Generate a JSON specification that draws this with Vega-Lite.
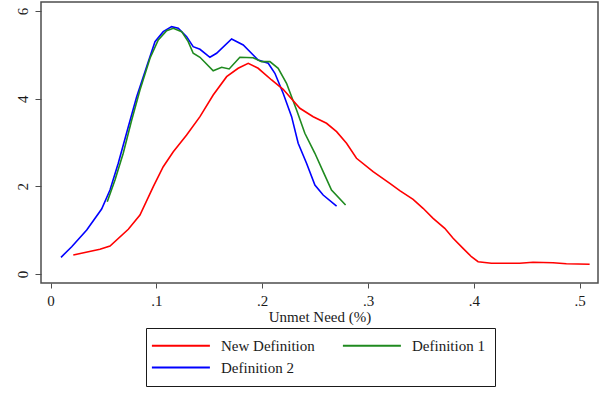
{
  "$schema": "https://vega.github.io/schema/vega-lite/v6.json",
  "autosize": "none",
  "width": 557,
  "height": 281,
  "padding": {"left": 41, "top": 2, "right": 15, "bottom": 113},
  "background": "white",
  "config": {
    "view": {"stroke": "#4d4d4d", "strokeWidth": 1.5},
    "axis": {"grid": false, "domain": false, "tickColor": "#4d4d4d", "labelFont": "Liberation Serif", "labelFontSize": 15, "labelColor": "#1a1a1a", "titleFont": "Liberation Serif", "titleFontSize": 15, "titleFontWeight": "normal", "titleColor": "#1a1a1a"}
  },
  "data": {"values": [
    {"def": "Definition 2", "x": 0.0099, "y": 0.381},
    {"def": "Definition 2", "x": 0.0200, "y": 0.623},
    {"def": "Definition 2", "x": 0.0342, "y": 1.004},
    {"def": "Definition 2", "x": 0.0483, "y": 1.483},
    {"def": "Definition 2", "x": 0.0562, "y": 1.917},
    {"def": "Definition 2", "x": 0.0640, "y": 2.526},
    {"def": "Definition 2", "x": 0.0735, "y": 3.361},
    {"def": "Definition 2", "x": 0.0814, "y": 4.045},
    {"def": "Definition 2", "x": 0.0908, "y": 4.730},
    {"def": "Definition 2", "x": 0.0987, "y": 5.300},
    {"def": "Definition 2", "x": 0.1065, "y": 5.528},
    {"def": "Definition 2", "x": 0.1144, "y": 5.642},
    {"def": "Definition 2", "x": 0.1207, "y": 5.606},
    {"def": "Definition 2", "x": 0.1286, "y": 5.414},
    {"def": "Definition 2", "x": 0.1348, "y": 5.186},
    {"def": "Definition 2", "x": 0.1412, "y": 5.127},
    {"def": "Definition 2", "x": 0.1506, "y": 4.944},
    {"def": "Definition 2", "x": 0.1569, "y": 5.035},
    {"def": "Definition 2", "x": 0.1711, "y": 5.362},
    {"def": "Definition 2", "x": 0.1821, "y": 5.225},
    {"def": "Definition 2", "x": 0.1915, "y": 4.997},
    {"def": "Definition 2", "x": 0.1962, "y": 4.882},
    {"def": "Definition 2", "x": 0.2057, "y": 4.807},
    {"def": "Definition 2", "x": 0.2120, "y": 4.579},
    {"def": "Definition 2", "x": 0.2198, "y": 4.123},
    {"def": "Definition 2", "x": 0.2278, "y": 3.589},
    {"def": "Definition 2", "x": 0.2340, "y": 2.982},
    {"def": "Definition 2", "x": 0.2419, "y": 2.526},
    {"def": "Definition 2", "x": 0.2498, "y": 2.031},
    {"def": "Definition 2", "x": 0.2576, "y": 1.802},
    {"def": "Definition 2", "x": 0.2703, "y": 1.551},
    {"def": "Definition 1", "x": 0.0536, "y": 1.650},
    {"def": "Definition 1", "x": 0.0609, "y": 2.145},
    {"def": "Definition 1", "x": 0.0687, "y": 2.754},
    {"def": "Definition 1", "x": 0.0767, "y": 3.514},
    {"def": "Definition 1", "x": 0.0845, "y": 4.198},
    {"def": "Definition 1", "x": 0.0940, "y": 4.921},
    {"def": "Definition 1", "x": 0.1018, "y": 5.339},
    {"def": "Definition 1", "x": 0.1097, "y": 5.551},
    {"def": "Definition 1", "x": 0.1160, "y": 5.606},
    {"def": "Definition 1", "x": 0.1239, "y": 5.528},
    {"def": "Definition 1", "x": 0.1301, "y": 5.300},
    {"def": "Definition 1", "x": 0.1348, "y": 5.035},
    {"def": "Definition 1", "x": 0.1412, "y": 4.944},
    {"def": "Definition 1", "x": 0.1537, "y": 4.638},
    {"def": "Definition 1", "x": 0.1617, "y": 4.716},
    {"def": "Definition 1", "x": 0.1688, "y": 4.677},
    {"def": "Definition 1", "x": 0.1789, "y": 4.944},
    {"def": "Definition 1", "x": 0.1915, "y": 4.935},
    {"def": "Definition 1", "x": 0.1994, "y": 4.844},
    {"def": "Definition 1", "x": 0.2073, "y": 4.844},
    {"def": "Definition 1", "x": 0.2151, "y": 4.693},
    {"def": "Definition 1", "x": 0.2230, "y": 4.351},
    {"def": "Definition 1", "x": 0.2325, "y": 3.742},
    {"def": "Definition 1", "x": 0.2403, "y": 3.210},
    {"def": "Definition 1", "x": 0.2498, "y": 2.754},
    {"def": "Definition 1", "x": 0.2576, "y": 2.334},
    {"def": "Definition 1", "x": 0.2655, "y": 1.917},
    {"def": "Definition 1", "x": 0.2788, "y": 1.574},
    {"def": "New Definition", "x": 0.0215, "y": 0.433},
    {"def": "New Definition", "x": 0.0467, "y": 0.564},
    {"def": "New Definition", "x": 0.0562, "y": 0.639},
    {"def": "New Definition", "x": 0.0735, "y": 1.020},
    {"def": "New Definition", "x": 0.0845, "y": 1.346},
    {"def": "New Definition", "x": 0.0971, "y": 1.992},
    {"def": "New Definition", "x": 0.1065, "y": 2.448},
    {"def": "New Definition", "x": 0.1160, "y": 2.790},
    {"def": "New Definition", "x": 0.1286, "y": 3.171},
    {"def": "New Definition", "x": 0.1412, "y": 3.589},
    {"def": "New Definition", "x": 0.1537, "y": 4.084},
    {"def": "New Definition", "x": 0.1664, "y": 4.502},
    {"def": "New Definition", "x": 0.1773, "y": 4.693},
    {"def": "New Definition", "x": 0.1868, "y": 4.807},
    {"def": "New Definition", "x": 0.1962, "y": 4.693},
    {"def": "New Definition", "x": 0.2089, "y": 4.426},
    {"def": "New Definition", "x": 0.2198, "y": 4.214},
    {"def": "New Definition", "x": 0.2356, "y": 3.781},
    {"def": "New Definition", "x": 0.2482, "y": 3.589},
    {"def": "New Definition", "x": 0.2608, "y": 3.438},
    {"def": "New Definition", "x": 0.2703, "y": 3.247},
    {"def": "New Definition", "x": 0.2797, "y": 2.982},
    {"def": "New Definition", "x": 0.2891, "y": 2.640},
    {"def": "New Definition", "x": 0.3048, "y": 2.334},
    {"def": "New Definition", "x": 0.3206, "y": 2.069},
    {"def": "New Definition", "x": 0.3300, "y": 1.901},
    {"def": "New Definition", "x": 0.3426, "y": 1.704},
    {"def": "New Definition", "x": 0.3520, "y": 1.499},
    {"def": "New Definition", "x": 0.3615, "y": 1.271},
    {"def": "New Definition", "x": 0.3725, "y": 1.043},
    {"def": "New Definition", "x": 0.3804, "y": 0.815},
    {"def": "New Definition", "x": 0.3898, "y": 0.586},
    {"def": "New Definition", "x": 0.3977, "y": 0.395},
    {"def": "New Definition", "x": 0.4040, "y": 0.281},
    {"def": "New Definition", "x": 0.4166, "y": 0.244},
    {"def": "New Definition", "x": 0.4433, "y": 0.244},
    {"def": "New Definition", "x": 0.4559, "y": 0.267},
    {"def": "New Definition", "x": 0.4748, "y": 0.258},
    {"def": "New Definition", "x": 0.4874, "y": 0.235},
    {"def": "New Definition", "x": 0.5094, "y": 0.221}
  ]},
  "mark": {"type": "line", "strokeWidth": 1.6},
  "encoding": {
    "x": {"field": "x", "type": "quantitative",
      "scale": {"domain": [-0.009, 0.5173], "nice": false, "zero": false},
      "axis": {"values": [0, 0.1, 0.2, 0.3, 0.4, 0.5], "labelExpr": "datum.value == 0 ? '0' : replace(format(datum.value, '.1f'), '0.', '.')", "tickSize": 5, "labelPadding": 5, "titlePadding": 1, "title": "Unmet Need (%)"}},
    "y": {"field": "y", "type": "quantitative",
      "scale": {"domain": [-0.205, 6.205], "nice": false, "zero": false},
      "axis": {"values": [0, 2, 4, 6], "labelAngle": -90, "labelAlign": "center", "labelBaseline": "middle", "tickSize": 6, "labelPadding": 13, "title": null}},
    "color": {"field": "def", "type": "nominal",
      "scale": {"domain": ["New Definition", "Definition 1", "Definition 2"], "range": ["#ff0000", "#1f8a1f", "#0000ff"]},
      "legend": {"title": null, "orient": "none", "legendX": 105, "legendY": 326, "direction": "horizontal", "columns": 2, "symbolType": "M-2,0H8", "symbolSize": 134.56, "symbolStrokeWidth": 2, "symbolFillColor": "transparent", "labelOffset": 50, "columnPadding": 23, "rowPadding": 6, "padding": 10, "strokeColor": "#1a1a1a", "fillColor": "white", "labelFont": "Liberation Serif", "labelFontSize": 15, "labelColor": "#1a1a1a", "labelLimit": 300}}
  }
}
